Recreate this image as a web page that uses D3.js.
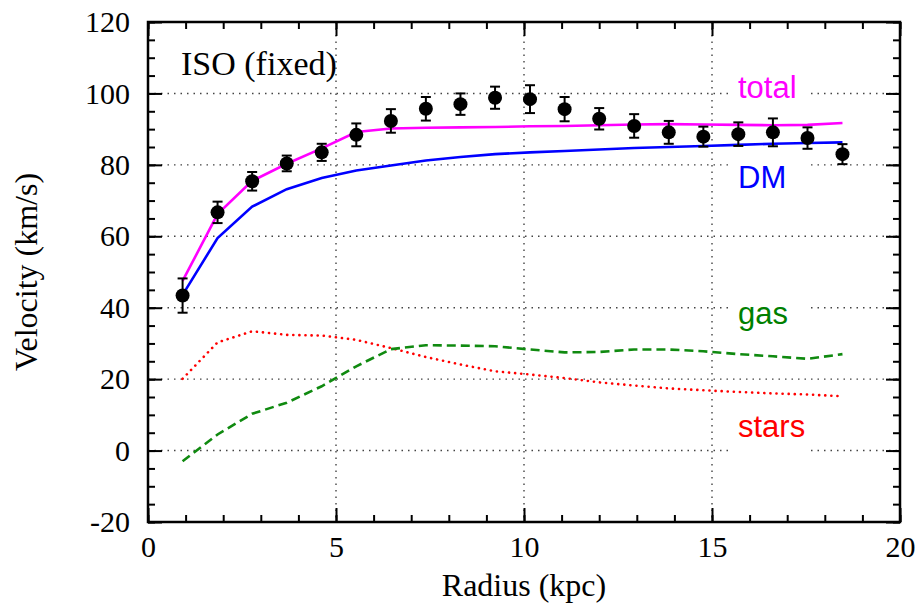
<!DOCTYPE html>
<html>
<head>
<meta charset="utf-8">
<script src="https://cdn.jsdelivr.net/npm/d3@7"></script>
<style>
  body { margin: 0; background: #fff; }
  svg { display: block; }
</style>
</head>
<body>
<div id="canvas"></div>
<script>
// rotation curve, ISO halo (fixed)
var radius  = [0.92, 1.85, 2.77, 3.69, 4.62, 5.54, 6.46, 7.39, 8.31, 9.23, 10.16, 11.08, 12.0, 12.93, 13.85, 14.77, 15.70, 16.62, 17.54, 18.47];
var vObs    = [43.4, 66.7, 75.4, 80.4, 83.5, 88.4, 92.3, 95.7, 97.0, 98.8, 98.4, 95.6, 92.9, 90.9, 89.1, 87.9, 88.6, 89.1, 87.5, 83.0];
var vErr    = [4.8, 3.0, 2.6, 2.2, 2.4, 3.2, 3.3, 3.3, 3.0, 3.1, 3.9, 3.4, 3.0, 3.3, 3.2, 2.8, 3.3, 3.9, 3.0, 2.8];
var vTotal  = [47.5, 66.2, 75.5, 80.3, 84.6, 89.2, 90.2, 90.4, 90.5, 90.6, 90.8, 90.9, 91.1, 91.3, 91.4, 91.3, 91.2, 91.1, 91.2, 91.7];
var vDM     = [43.6, 59.5, 68.3, 73.2, 76.3, 78.4, 79.8, 81.2, 82.2, 83.0, 83.5, 83.9, 84.3, 84.7, 85.0, 85.3, 85.6, 85.9, 86.1, 86.3];
var vGas    = [-3.0, 4.5, 10.3, 13.4, 18.0, 23.6, 28.4, 29.5, 29.4, 29.2, 28.3, 27.5, 27.6, 28.3, 28.3, 27.8, 27.0, 26.4, 25.7, 27.0];
var vStars  = [20.1, 30.3, 33.4, 32.4, 32.2, 31.0, 28.7, 26.2, 24.1, 22.2, 21.3, 20.3, 19.1, 18.2, 17.4, 16.9, 16.4, 16.0, 15.7, 15.2];

var xTicks = [0, 5, 10, 15, 20];
var yTicks = [-20, 0, 20, 40, 60, 80, 100, 120];

var margin = {top: 22, right: 20, bottom: 83, left: 148},
    width = 920 - margin.left - margin.right,
    height = 605 - margin.top - margin.bottom;

var serif = "'Liberation Serif', 'Times New Roman', serif";
var sans = "'Liberation Sans', Arial, sans-serif";

var x = d3.scaleLinear().domain([0, 20]).range([0, width]);
var y = d3.scaleLinear().domain([-20, 120]).range([height, 0]);

var svg = d3.select("#canvas").append("svg")
    .attr("width", 920)
    .attr("height", 605)
  .append("g")
    .attr("transform", "translate(" + margin.left + "," + margin.top + ")");

// dotted grid at major ticks
svg.append("g").selectAll("line.gx")
  .data(xTicks.slice(1, -1)).enter().append("line")
    .attr("x1", d => x(d)).attr("x2", d => x(d))
    .attr("y1", 0).attr("y2", height)
    .attr("stroke", "#444").attr("stroke-width", 1.4)
    .attr("stroke-dasharray", "1.5,5");
svg.append("g").selectAll("line.gy")
  .data(yTicks.slice(1, -1)).enter().append("line")
    .attr("x1", 0).attr("x2", width)
    .attr("y1", d => y(d)).attr("y2", d => y(d))
    .attr("stroke", "#444").attr("stroke-width", 1.4)
    .attr("stroke-dasharray", "1.5,5");

// ticks on all four sides, pointing in
function tickAxis(axis, tr, vals, size, labels) {
  var g = svg.append("g").attr("transform", tr)
    .call(axis.tickValues(vals).tickSize(-size).tickPadding(18)
      .tickFormat(labels ? (d => String(d)) : ""));
  g.select(".domain").remove();
  g.style("font-family", serif).style("font-size", "30px");
  g.selectAll(".tick line").attr("stroke", "#000").attr("stroke-width", 2);
  g.selectAll("text").style("font-family", serif).style("font-size", "30px").attr("fill", "#000");
  return g;
}
var xMinor = d3.range(0, 21, 1), yMinor = d3.range(-20, 121, 5);
tickAxis(d3.axisBottom(x), "translate(0," + height + ")", xMinor, 7, false);
tickAxis(d3.axisTop(x), "translate(0,0)", xMinor, 7, false);
tickAxis(d3.axisLeft(y), "translate(0,0)", yMinor, 7, false);
tickAxis(d3.axisRight(y), "translate(" + width + ",0)", yMinor, 7, false);
var gb = tickAxis(d3.axisBottom(x), "translate(0," + height + ")", xTicks, 14, true);
gb.selectAll("text").attr("dy", "0.9em").attr("y", 8);
tickAxis(d3.axisTop(x), "translate(0,0)", xTicks, 14, false);
var gl = tickAxis(d3.axisLeft(y), "translate(0,0)", yTicks, 14, true);
gl.selectAll("text").attr("x", -18);
tickAxis(d3.axisRight(y), "translate(" + width + ",0)", yTicks, 14, false);

// frame
svg.append("rect")
    .attr("width", width).attr("height", height)
    .attr("fill", "none").attr("stroke", "#000").attr("stroke-width", 2.5);

// component labels with white boxes over the grid
var labels = [
  {t: "total", v: 100, c: "#ff00ff"},
  {t: "DM", v: 80, c: "#0000ff"},
  {t: "gas", v: 40, c: "#008000"},
  {t: "stars", v: 0, c: "#ff0000"}
];
var lab = svg.append("g");
lab.selectAll("rect").data(labels).enter().append("rect")
    .attr("x", 580).attr("y", d => y(d.v) - 6)
    .attr("width", 80).attr("height", 12)
    .attr("fill", "#fff");
var labY = {total: 98, DM: 188, gas: 324, stars: 437};
lab.selectAll("text").data(labels).enter().append("text")
    .attr("x", 738 - margin.left).attr("y", d => labY[d.t] - margin.top)
    .attr("font-family", sans).attr("font-size", 31)
    .attr("fill", d => d.c)
    .text(d => d.t);

// model curves
var line = d3.line().x(d => x(d[0])).y(d => y(d[1]));
function curve(vals, color, dash) {
  svg.append("path")
    .datum(radius.map((r, i) => [r, vals[i]]))
    .attr("fill", "none").attr("stroke", color)
    .attr("stroke-width", 2.6)
    .attr("stroke-dasharray", dash)
    .attr("stroke-linecap", dash === "0.1,6" ? "round" : "butt")
    .attr("d", line);
}
curve(vStars, "#ff0000", "0.1,6");
curve(vGas, "#108a10", "9,5");
curve(vDM, "#0000ff", null);
curve(vTotal, "#ff00ff", null);

// observed points with error bars
var obs = radius.map((r, i) => ({r: r, v: vObs[i], e: vErr[i]}));
var pts = svg.append("g").selectAll("g").data(obs).enter().append("g");
pts.append("line")
    .attr("x1", d => x(d.r)).attr("x2", d => x(d.r))
    .attr("y1", d => y(d.v - d.e)).attr("y2", d => y(d.v + d.e))
    .attr("stroke", "#000").attr("stroke-width", 2);
pts.selectAll("line.cap").data(d => [[d.r, d.v - d.e], [d.r, d.v + d.e]]).enter()
  .append("line")
    .attr("x1", d => x(d[0]) - 5).attr("x2", d => x(d[0]) + 5)
    .attr("y1", d => y(d[1])).attr("y2", d => y(d[1]))
    .attr("stroke", "#000").attr("stroke-width", 2);
pts.append("circle")
    .attr("cx", d => x(d.r)).attr("cy", d => y(d.v))
    .attr("r", 7).attr("fill", "#000");

// title inside plot
svg.append("text")
    .attr("x", 181 - margin.left).attr("y", 75 - margin.top)
    .attr("font-family", serif).attr("font-size", 34)
    .text("ISO (fixed)");

// axis titles
svg.append("text")
    .attr("x", width / 2).attr("y", height + 74)
    .attr("text-anchor", "middle")
    .attr("font-family", serif).attr("font-size", 32)
    .text("Radius (kpc)");
svg.append("text")
    .attr("transform", "translate(" + (37 - margin.left) + "," + (height / 2) + ") rotate(-90)")
    .attr("text-anchor", "middle")
    .attr("font-family", serif).attr("font-size", 32)
    .text("Velocity (km/s)");
</script>
</body>
</html>
